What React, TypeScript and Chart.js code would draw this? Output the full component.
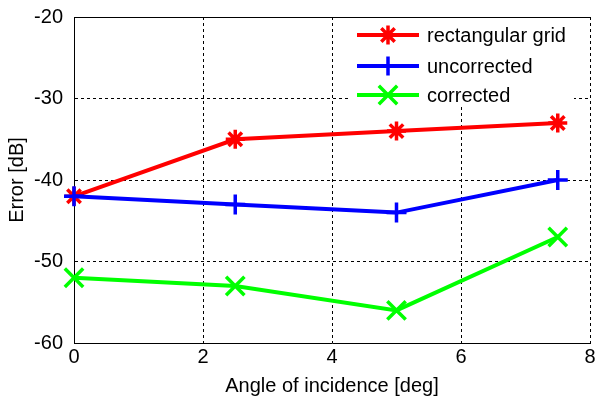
import React, { useEffect, useRef } from "react";
import { Chart, registerables } from "chart.js";

Chart.register(...registerables);

const xValues = [0, 2.5, 5, 7.5];
const rectangularGrid = [-42, -35, -34, -33];
const uncorrected = [-42, -43, -44, -40];
const corrected = [-52, -53, -56, -47];
const seriesLabels = ["rectangular grid", "uncorrected", "corrected"];
const xTitle = "Angle of incidence [deg]";
const yTitle = "Error [dB]";

const FONT = "'Liberation Sans', Arial, Helvetica, sans-serif";

function drawMarker(ctx: CanvasRenderingContext2D, style: string, x: number, y: number, r: number) {
  ctx.beginPath();
  if (style === "cross" || style === "star") {
    ctx.moveTo(x, y - r);
    ctx.lineTo(x, y + r);
    ctx.moveTo(x - r, y);
    ctx.lineTo(x + r, y);
  }
  if (style === "crossRot" || style === "star") {
    const d = Math.cos(Math.PI / 4) * r;
    ctx.moveTo(x - d, y - d);
    ctx.lineTo(x + d, y + d);
    ctx.moveTo(x - d, y + d);
    ctx.lineTo(x + d, y - d);
  }
  ctx.stroke();
}

const framePlugin = {
  id: "frameAndLegend",
  afterDraw(chart: any) {
    const { ctx, chartArea } = chart;
    const { left, top, right } = chartArea;
    ctx.save();
    // legend box
    const bx = 350, by = top + 1, bw = 224, bh = 88;
    ctx.fillStyle = "#fff";
    ctx.fillRect(bx, by, bw, bh);
    // top solid frame line
    ctx.strokeStyle = "#000";
    ctx.lineWidth = 1;
    ctx.setLineDash([]);
    ctx.beginPath();
    ctx.moveTo(left, top + 0.5);
    ctx.lineTo(right, top + 0.5);
    ctx.stroke();
    // legend entries
    const rowY = [35, 66, 95];
    chart.data.datasets.forEach((ds: any, i: number) => {
      const y = rowY[i];
      ctx.strokeStyle = ds.borderColor;
      ctx.lineWidth = 4;
      ctx.beginPath();
      ctx.moveTo(357, y);
      ctx.lineTo(419, y);
      ctx.stroke();
      ctx.lineWidth = ds.pointBorderWidth;
      drawMarker(ctx, ds.pointStyle, 388, y, ds.pointStyle === "crossRot" ? 13 : 9.5);
      ctx.fillStyle = "#000";
      ctx.font = `20px ${FONT}`;
      ctx.textAlign = "left";
      ctx.textBaseline = "middle";
      ctx.fillText(ds.label, 427, y + 1);
    });
    ctx.restore();
  },
};

export default function App() {
  const ref = useRef<HTMLCanvasElement>(null);
  useEffect(() => {
    document.body.style.margin = "0";
    if (!ref.current) return;
    const mk = (label: string, data: number[], color: string, style: string, r: number, order: number) => ({
      label,
      data: data.map((v, i) => ({ x: xValues[i], y: v })),
      borderColor: color,
      backgroundColor: color,
      borderWidth: 4,
      pointStyle: style,
      pointRadius: r,
      pointBorderWidth: 3.5,
      pointBorderColor: color,
      pointBackgroundColor: color,
      order,
      tension: 0,
      clip: false,
    });
    const chart = new Chart(ref.current, {
      type: "line",
      data: {
        datasets: [
          mk(seriesLabels[0], rectangularGrid, "#ff0000", "star", 9.5, 3),
          mk(seriesLabels[1], uncorrected, "#0000ff", "cross", 10, 2),
          mk(seriesLabels[2], corrected, "#00ff00", "crossRot", 13, 1),
        ] as any,
      },
      options: {
        animation: false,
        responsive: true,
        maintainAspectRatio: false,
        layout: { autoPadding: false, padding: { left: 0, right: 5, top: 17, bottom: 0 } },
        plugins: { legend: { display: false }, tooltip: { enabled: false } },
        scales: {
          x: {
            type: "linear",
            min: 0,
            max: 8,
            afterFit: (s: any) => { s.height = 56; s.paddingLeft = 0; s.paddingRight = 0; },
            ticks: { stepSize: 2, color: "#000", font: { family: FONT, size: 20 }, padding: 2, maxRotation: 0 },
            grid: { color: "#000", lineWidth: 1, drawTicks: false },
            border: { display: true, color: "#000", width: 1, dash: [3, 3] },
            title: { display: true, text: xTitle, color: "#000", font: { family: FONT, size: 20 }, padding: 1 },
          },
          y: {
            type: "linear",
            min: -60,
            max: -20,
            afterFit: (s: any) => { s.width = 74; s.paddingTop = 0; s.paddingBottom = 0; },
            ticks: { stepSize: 10, color: "#000", font: { family: FONT, size: 20 }, padding: 11 },
            grid: { color: "#000", lineWidth: 1, drawTicks: false },
            border: { display: true, color: "#000", width: 1, dash: [3, 3] },
            title: { display: true, text: yTitle, color: "#000", font: { family: FONT, size: 20 }, padding: 5 },
          },
        },
      },
      plugins: [framePlugin],
    });
    return () => chart.destroy();
  }, []);
  return (
    <div style={{ width: 595, height: 399, position: "relative" }}>
      <canvas ref={ref} />
    </div>
  );
}
